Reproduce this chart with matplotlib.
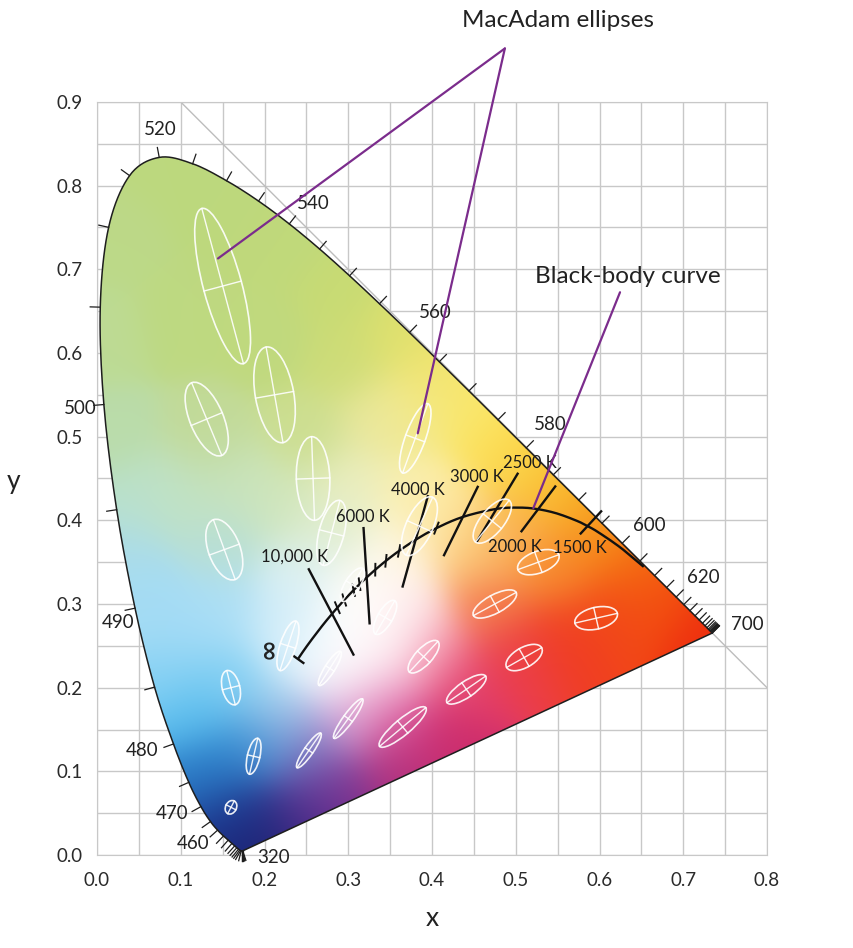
import numpy as np
import matplotlib
matplotlib.use("Agg")
import matplotlib.pyplot as plt
from matplotlib.patches import Ellipse, Polygon
from matplotlib import colors as mcolors

plt.rcParams['font.family'] = ['Lato', 'DejaVu Sans']

# CIE 1931 spectral locus, 380-700 nm every 5 nm
wl = list(range(380, 705, 5))
locus_x = [0.1741, 0.1740, 0.1738, 0.1736, 0.1733, 0.1730, 0.1726, 0.1721, 0.1714, 0.1703,
           0.1689, 0.1669, 0.1644, 0.1611, 0.1566, 0.1510, 0.1440, 0.1355, 0.1241, 0.1096,
           0.0913, 0.0687, 0.0454, 0.0235, 0.0082, 0.0039, 0.0139, 0.0389, 0.0743, 0.1142,
           0.1547, 0.1929, 0.2296, 0.2658, 0.3016, 0.3373, 0.3731, 0.4087, 0.4441, 0.4788,
           0.5125, 0.5448, 0.5752, 0.6029, 0.6270, 0.6482, 0.6658, 0.6801, 0.6915, 0.7006,
           0.7079, 0.7140, 0.7190, 0.7230, 0.7260, 0.7283, 0.7300, 0.7311, 0.7320, 0.7327,
           0.7334, 0.7340, 0.7344, 0.7346, 0.7347]
locus_y = [0.0050, 0.0050, 0.0049, 0.0049, 0.0048, 0.0048, 0.0048, 0.0048, 0.0051, 0.0058,
           0.0069, 0.0086, 0.0109, 0.0138, 0.0177, 0.0227, 0.0297, 0.0399, 0.0578, 0.0868,
           0.1327, 0.2007, 0.2950, 0.4127, 0.5384, 0.6548, 0.7502, 0.8120, 0.8338, 0.8262,
           0.8059, 0.7816, 0.7543, 0.7243, 0.6923, 0.6589, 0.6245, 0.5896, 0.5547, 0.5202,
           0.4866, 0.4544, 0.4242, 0.3965, 0.3725, 0.3514, 0.3340, 0.3197, 0.3083, 0.2993,
           0.2920, 0.2859, 0.2809, 0.2770, 0.2740, 0.2717, 0.2700, 0.2689, 0.2680, 0.2673,
           0.2666, 0.2660, 0.2656, 0.2654, 0.2653]

wl_labels = ['520', '540', '560', '580', '600', '620', '700', '500', '490', '480', '470', '460', '320']
wl_lx = [0.075, 0.258, 0.404, 0.541, 0.660, 0.724, 0.776, -0.020, 0.025, 0.054, 0.090, 0.115, 0.211]
wl_ly = [0.867, 0.779, 0.649, 0.514, 0.394, 0.332, 0.275, 0.534, 0.278, 0.125, 0.050, 0.014, -0.003]

# MacAdam ellipses: centre, semi axes (x1e-3, drawn 10x), angle
mac_x = [0.160, 0.187, 0.253, 0.150, 0.131, 0.212, 0.258, 0.152, 0.280, 0.380, 0.160, 0.228, 0.305,
         0.385, 0.472, 0.527, 0.475, 0.510, 0.596, 0.344, 0.390, 0.441, 0.278, 0.300, 0.365]
mac_y = [0.057, 0.118, 0.125, 0.680, 0.521, 0.550, 0.450, 0.365, 0.385, 0.498, 0.200, 0.250, 0.323,
         0.393, 0.399, 0.350, 0.300, 0.236, 0.283, 0.284, 0.237, 0.198, 0.223, 0.163, 0.153]
mac_a = [0.85, 2.2, 2.5, 9.6, 4.7, 5.8, 5.0, 3.8, 4.0, 4.4, 2.1, 3.1, 2.3,
         3.8, 3.2, 2.6, 2.9, 2.4, 2.6, 2.3, 2.5, 2.8, 2.4, 2.9, 3.6]
mac_b = [0.65, 0.75, 0.55, 2.3, 2.0, 2.3, 2.0, 1.9, 1.5, 1.2, 1.05, 0.95, 0.9,
         1.6, 1.4, 1.3, 1.1, 1.2, 1.3, 0.9, 1.0, 0.95, 0.6, 0.6, 0.95]
mac_theta = [62.5, 77, 55.5, 105, 112.5, 100, 92, 110, 75.5, 70, 104, 72, 58,
             65.5, 51, 20, 28.5, 29.5, 13, 60, 47, 34.5, 57.5, 54, 40]

# black-body (Planckian) locus
bb_T = [1000, 1200, 1400, 1500, 1600, 1800, 2000, 2200, 2500, 3000, 3500, 4000, 4500, 5000,
        5500, 6000, 6500, 7000, 8000, 9000, 10000, 12000, 15000, 20000, 25000, 40000, np.inf]
bb_x = [0.6528, 0.6251, 0.5985, 0.5857, 0.5732, 0.5492, 0.5267, 0.5056, 0.4770, 0.4369, 0.4053,
        0.3805, 0.3607, 0.3450, 0.3323, 0.3220, 0.3135, 0.3064, 0.2952, 0.2870, 0.2807, 0.2718,
        0.2637, 0.2564, 0.2525, 0.2472, 0.2399]
bb_y = [0.3444, 0.3674, 0.3858, 0.3931, 0.3993, 0.4082, 0.4133, 0.4152, 0.4137, 0.4041, 0.3907,
        0.3768, 0.3635, 0.3516, 0.3410, 0.3318, 0.3237, 0.3166, 0.3048, 0.2956, 0.2883, 0.2776,
        0.2672, 0.2576, 0.2523, 0.2449, 0.2342]

iso_T = [10000, 6000, 4000, 3000, 2500, 2000, 1500]
iso_up = [0.060, 0.059, 0.054, 0.040, 0.049, 0.034, 0.024]
iso_down = [0.055, 0.055, 0.058, 0.051, 0.045, 0.033, 0.012]
minor_T = [9000, 8000, 7000, 6500, 5500, 5000, 4500, 3500]

temp_labels = ['10,000 K', '6000 K', '4000 K', '3000 K', '2500 K', '2000 K', '1500 K']
temp_lx = [0.2364, 0.3176, 0.3833, 0.4537, 0.5170, 0.4991, 0.5767]
temp_ly = [0.3561, 0.4040, 0.4362, 0.4518, 0.4685, 0.3681, 0.3669]

# colour anchors for the shading of the diagram
shade = [
    (0.075, 0.83, '#bcd87e'), (0.02, 0.74, '#bcd988'), (0.14, 0.78, '#bdd87d'),
    (0.22, 0.73, '#c0d97b'), (0.29, 0.67, '#c8db74'), (0.005, 0.62, '#bddb94'),
    (0.10, 0.64, '#bed981'), (0.20, 0.62, '#c0d97e'), (0.30, 0.59, '#cddc78'),
    (0.36, 0.62, '#dfe16d'), (0.40, 0.575, '#f2e46e'), (0.44, 0.535, '#fae86c'),
    (0.38, 0.53, '#f5ea8c'), (0.34, 0.52, '#eae8a0'), (0.48, 0.49, '#fcdf58'),
    (0.52, 0.46, '#fbcd40'), (0.56, 0.43, '#f9b42a'), (0.60, 0.39, '#f7961c'),
    (0.64, 0.35, '#f57012'), (0.68, 0.31, '#f3500f'), (0.73, 0.266, '#ee2e10'),
    (0.62, 0.29, '#f24818'), (0.55, 0.34, '#f7862c'), (0.50, 0.38, '#fab050'),
    (0.45, 0.36, '#fcc878'), (0.42, 0.40, '#fde49a'), (0.38, 0.43, '#fbf0b0'),
    (0.36, 0.36, '#fff8e6'), (0.47, 0.30, '#f47848'), (0.56, 0.26, '#f03e22'),
    (0.50, 0.235, '#ec3e48'), (0.44, 0.20, '#e23c6a'), (0.40, 0.24, '#f59ab4'),
    (0.37, 0.29, '#feeaec'), (0.33, 0.28, '#ffffff'), (0.29, 0.25, '#ffffff'),
    (0.31, 0.31, '#fffdf8'), (0.30, 0.22, '#ffffff'), (0.34, 0.245, '#fff4f6'),
    (0.34, 0.19, '#ee9ec8'), (0.36, 0.15, '#d4408a'), (0.30, 0.16, '#d8a8dc'),
    (0.42, 0.13, '#cc2c6c'), (0.36, 0.10, '#b0307c'), (0.29, 0.08, '#7a3090'),
    (0.25, 0.12, '#7472c0'), (0.24, 0.05, '#4c2c8a'), (0.19, 0.015, '#1c2272'),
    (0.165, 0.05, '#1c3890'), (0.19, 0.13, '#3a90d4'), (0.14, 0.10, '#2a7cc8'),
    (0.22, 0.17, '#b4d8f2'), (0.12, 0.17, '#56bcee'), (0.16, 0.21, '#88d2f4'),
    (0.09, 0.22, '#88d2f4'), (0.10, 0.27, '#a6dcf6'), (0.05, 0.30, '#a4dcf4'),
    (0.15, 0.29, '#acdff6'), (0.22, 0.27, '#cdebf9'), (0.25, 0.25, '#e6f5fc'),
    (0.24, 0.33, '#dbf0f4'), (0.03, 0.36, '#aadcec'), (0.03, 0.42, '#bae1cc'),
    (0.09, 0.43, '#c0e2c6'), (0.15, 0.37, '#b8dfd6'), (0.16, 0.44, '#c8e3bc'),
    (0.22, 0.42, '#d0e6bc'), (0.28, 0.385, '#e0eed4'), (0.30, 0.44, '#ebeebf'),
    (0.015, 0.50, '#badcaa'), (0.13, 0.50, '#c2da98'), (0.25, 0.50, '#ccde90'),
]

purple = '#7b2c8c'
grid_c = '#c8c8c8'
ink = '#222222'


def catmull(px, py, n=10):
    # smooth curve through the tabulated points
    P = np.column_stack([px, py])
    P = np.vstack([P[0], P, P[-1]])
    t = np.linspace(0, 1, n, endpoint=False)[:, None]
    out = []
    for i in range(1, len(P) - 2):
        p0, p1, p2, p3 = P[i - 1], P[i], P[i + 1], P[i + 2]
        out.append(0.5 * (2 * p1 + (-p0 + p2) * t + (2 * p0 - 5 * p1 + 4 * p2 - p3) * t ** 2
                          + (-p0 + 3 * p1 - 3 * p2 + p3) * t ** 3))
    out.append(P[-2][None])
    return np.vstack(out)


fig = plt.figure(figsize=(8.54, 9.48), dpi=100)
ax = fig.add_axes([97 / 854, 1 - 855 / 948, 670 / 854, 753 / 948])

# grid and the x + y = 1 line
ax.set_xticks(np.arange(0, 0.81, 0.1))
ax.set_yticks(np.arange(0, 0.91, 0.1))
ax.set_xticks(np.arange(0.05, 0.8, 0.1), minor=True)
ax.set_yticks(np.arange(0.05, 0.9, 0.1), minor=True)
ax.set_xticklabels([f'{v:.1f}' for v in np.arange(0, 0.81, 0.1)])
ax.set_yticklabels([f'{v:.1f}' for v in np.arange(0, 0.91, 0.1)])
ax.grid(True, which='both', color=grid_c, lw=1.0, zorder=0)
ax.set_axisbelow(True)
ax.tick_params(which='both', length=0, labelsize=13.5, colors='#2a2a2a')
ax.tick_params(axis='x', pad=12)
ax.tick_params(axis='y', pad=10)
for s in ax.spines.values():
    s.set_color(grid_c)
ax.plot([0.1, 0.8], [0.9, 0.2], color='#bdbdbd', lw=1.0, zorder=1)

# shaded colour field clipped to the spectral locus
gx = np.linspace(0, 0.75, 380)
gy = np.linspace(0, 0.84, 425)
X, Y = np.meshgrid(gx, gy)
sx = np.array([s[0] for s in shade])
sy = np.array([s[1] for s in shade])
sc = np.array([mcolors.to_rgb(s[2]) for s in shade])
sig = 0.034
w = np.exp(-((X[..., None] - sx) ** 2 + (Y[..., None] - sy) ** 2) / (2 * sig ** 2))
rgb = np.einsum('ijk,kc->ijc', w, sc) / w.sum(axis=2)[..., None]
rgb = np.clip(rgb, 0, 1)
im = ax.imshow(rgb, extent=(0, 0.75, 0, 0.84), origin='lower', interpolation='bilinear',
               zorder=2, aspect='auto')
lx = np.array(locus_x)
ly = np.array(locus_y)
curve = catmull(lx, ly)
clip = Polygon(curve, closed=True, transform=ax.transData)
im.set_clip_path(clip)
ax.set_xlim(0, 0.8)
ax.set_ylim(0, 0.9)

# outline and wavelength ticks
ax.plot(np.append(curve[:, 0], curve[0, 0]), np.append(curve[:, 1], curve[0, 1]),
        color='#1e1e1e', lw=1.1, zorder=3)
cx, cy = 0.33, 0.33
for i in range(len(lx)):
    j0, j1 = max(i - 1, 0), min(i + 1, len(lx) - 1)
    tx, ty = lx[j1] - lx[j0], ly[j1] - ly[j0]
    nx, ny = ty, -tx
    n = np.hypot(nx, ny)
    nx, ny = nx / n, ny / n
    if nx * (lx[i] - cx) + ny * (ly[i] - cy) < 0:
        nx, ny = -nx, -ny
    ax.plot([lx[i], lx[i] + 0.012 * nx], [ly[i], ly[i] + 0.012 * ny], color='#1e1e1e',
            lw=0.9, zorder=3, clip_on=False)
for t, x, y in zip(wl_labels, wl_lx, wl_ly):
    ax.text(x, y, t, ha='center', va='center', fontsize=13.5, color=ink, zorder=7,
            clip_on=False)

# black-body curve
bx = np.array(bb_x)
by = np.array(bb_y)
bcurve = catmull(bx, by)
ax.plot(bcurve[:, 0], bcurve[:, 1], color='#111111', lw=1.7, zorder=5, solid_capstyle='butt')


def to_uv(x, y):
    d = -2 * x + 12 * y + 3
    return 4 * x / d, 6 * y / d


def to_xy(u, v):
    d = 2 * u - 8 * v + 4
    return 3 * u / d, 2 * v / d


def iso_dir(k):
    # isotemperature direction: normal to the locus in CIE 1960 uv, mapped back to xy
    k0, k1 = max(k - 1, 0), min(k + 1, len(bx) - 1)
    u0, v0 = to_uv(bx[k0], by[k0])
    u1, v1 = to_uv(bx[k1], by[k1])
    tu, tv = u1 - u0, v1 - v0
    nu, nv = -tv, tu
    nn = np.hypot(nu, nv)
    u, v = to_uv(bx[k], by[k])
    px, py = to_xy(u + 1e-4 * nu / nn, v + 1e-4 * nv / nn)
    dx, dy = px - bx[k], py - by[k]
    d = np.hypot(dx, dy)
    dx, dy = dx / d, dy / d
    if dy < 0:
        dx, dy = -dx, -dy
    return dx, dy


for T, up, dn in zip(iso_T, iso_up, iso_down):
    k = bb_T.index(T)
    dx, dy = iso_dir(k)
    ax.plot([bx[k] - dn * dx, bx[k] + up * dx], [by[k] - dn * dy, by[k] + up * dy],
            color='#111111', lw=1.7, zorder=5)
for T in minor_T:
    k = bb_T.index(T)
    dx, dy = iso_dir(k)
    ax.plot([bx[k] - 0.007 * dx, bx[k] + 0.007 * dx], [by[k] - 0.007 * dy, by[k] + 0.007 * dy],
            color='#111111', lw=1.4, zorder=5)
k = len(bx) - 1
dx, dy = iso_dir(k)
ax.plot([bx[k] - 0.008 * dx, bx[k] + 0.006 * dx], [by[k] - 0.008 * dy, by[k] + 0.006 * dy],
        color='#111111', lw=1.7, zorder=5)
ax.text(0.204, 0.247, '∞', rotation=90, ha='center', va='center', fontsize=19,
        color=ink, zorder=7, family=['DejaVu Sans'], fontweight='bold')
for t, x, y in zip(temp_labels, temp_lx, temp_ly):
    ax.text(x, y, t, ha='center', va='center', fontsize=12, color='#1a1a1a', zorder=7)

# MacAdam ellipses (10x enlarged)
for x, y, a, b, th in zip(mac_x, mac_y, mac_a, mac_b, mac_theta):
    a10, b10 = a * 1e-2, b * 1e-2
    e = Ellipse((x, y), 2 * a10, 2 * b10, angle=th, fill=False, ec='white', lw=1.2,
                alpha=0.9, zorder=6)
    ax.add_patch(e)
    r = np.deg2rad(th)
    ax.plot([x - a10 * np.cos(r), x + a10 * np.cos(r)], [y - a10 * np.sin(r), y + a10 * np.sin(r)],
            color='white', lw=1.0, alpha=0.9, zorder=6)
    ax.plot([x + b10 * np.sin(r), x - b10 * np.sin(r)], [y - b10 * np.cos(r), y + b10 * np.cos(r)],
            color='white', lw=1.0, alpha=0.9, zorder=6)

# annotations
for tx, ty in [(0.1445, 0.713), (0.383, 0.504)]:
    ax.annotate('', xy=(tx, ty), xytext=(0.487, 0.964), annotation_clip=False,
                arrowprops=dict(arrowstyle='-', color=purple, lw=1.6, shrinkA=0, shrinkB=0),
                zorder=8)
ax.text(0.550, 0.998, 'MacAdam ellipses', ha='center', va='center', fontsize=17.5,
        color=ink, clip_on=False)
ax.annotate('', xy=(0.521, 0.4146), xytext=(0.6245, 0.6726), annotation_clip=False,
            arrowprops=dict(arrowstyle='-', color=purple, lw=1.6, shrinkA=0, shrinkB=0),
            zorder=8)
ax.text(0.634, 0.692, 'Black-body curve', ha='center', va='center', fontsize=17.5,
        color=ink, zorder=8)

fig.text(432 / 854, 1 - 918 / 948, 'x', ha='center', va='center', fontsize=19, color=ink)
fig.text(14 / 854, 1 - 482 / 948, 'y', ha='center', va='center', fontsize=19, color=ink)

fig.savefig('out.png', dpi=100)
